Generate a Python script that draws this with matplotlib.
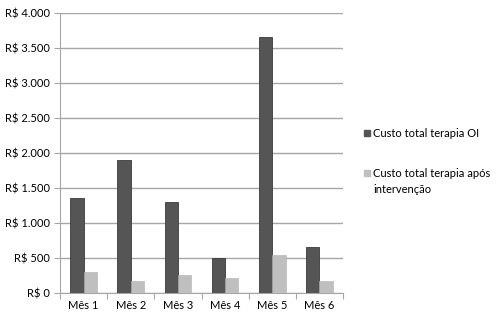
import numpy as np
import matplotlib.pyplot as plt
from matplotlib.patches import Rectangle
from matplotlib.ticker import FuncFormatter

plt.rcParams['font.family'] = ['Lato', 'DejaVu Sans']

meses = ['Mês 1', 'Mês 2', 'Mês 3', 'Mês 4', 'Mês 5', 'Mês 6']
custo_oi = [1360, 1900, 1295, 500, 3660, 660]
custo_apos = [305, 180, 253, 214, 543, 171]
nomes = ['Custo total terapia OI', 'Custo total terapia após\nintervenção']
cores = ['#555555', '#bfbfbf']

fig = plt.figure(figsize=(5, 3.25), dpi=100)
ax = fig.add_axes([0.12, 0.098, 0.566, 0.862])

x = np.arange(len(meses))
w = 0.283
ax.bar(x - w / 2, custo_oi, w, color=cores[0], edgecolor='#3a3a3a', linewidth=0.6, zorder=3)
ax.bar(x + w / 2, custo_apos, w, color=cores[1], edgecolor='#b0b0b0', linewidth=0.4, zorder=3)

ax.set_xlim(-0.5, len(meses) - 0.5)
ax.set_ylim(0, 4000)
ax.set_yticks(np.arange(0, 4001, 500))
ax.yaxis.set_major_formatter(FuncFormatter(lambda v, p: 'R$ ' + f'{int(v):,}'.replace(',', '.')))
ax.yaxis.grid(True, color='#a6a6a6', linewidth=1)
ax.set_axisbelow(True)

# ticks at category boundaries, labels centred
ax.set_xticks(np.arange(-0.5, len(meses)), minor=False)
ax.set_xticklabels([])
ax.set_xticks(x, minor=True)
ax.set_xticklabels(meses, minor=True)
ax.tick_params(axis='x', which='minor', length=0, pad=5, labelsize=8)
ax.tick_params(axis='x', which='major', length=4, color='#a6a6a6')
ax.tick_params(axis='y', length=4, color='#a6a6a6', labelsize=8, pad=3)

for s in ['top', 'right']:
    ax.spines[s].set_visible(False)
for s in ['left', 'bottom']:
    ax.spines[s].set_color('#a6a6a6')

# legend drawn by hand: square marker level with the first text line
for nome, cor, ytop in zip(nomes, cores, [128, 168]):
    fig.add_artist(Rectangle((364 / 500, 1 - (ytop + 8) / 325), 6 / 500, 6 / 325,
                             transform=fig.transFigure, color=cor))
    fig.text(373 / 500, 1 - ytop / 325, nome, fontsize=8, va='top', ha='left',
             linespacing=1.55)

fig.savefig('out.png', dpi=100)
